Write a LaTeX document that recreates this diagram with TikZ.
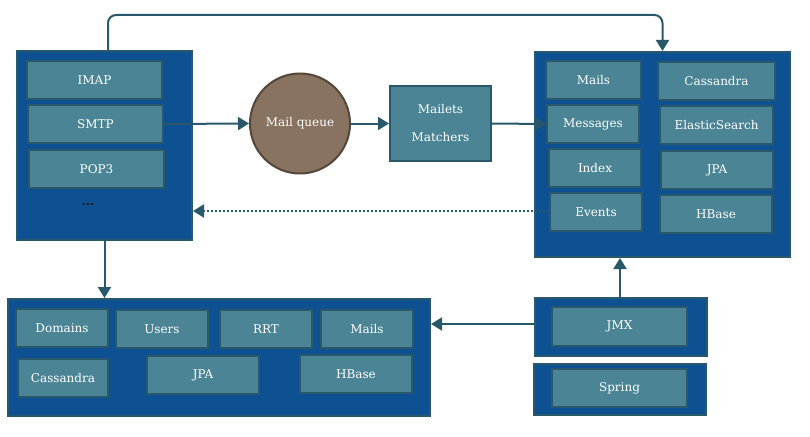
\documentclass[tikz,border=0pt]{standalone}
\usepackage{fontspec}
\setmainfont{DejaVu Serif}
\usetikzlibrary{arrows.meta}
\definecolor{outerblue}{RGB}{14,81,146}
\definecolor{edgeteal}{RGB}{40,88,105}
\definecolor{innerteal}{RGB}{74,132,149}
\definecolor{queuebrown}{RGB}{135,115,95}
\definecolor{queueedge}{RGB}{85,70,58}
\tikzset{
  outerbox/.style={draw=edgeteal, fill=outerblue, line width=2pt, inner sep=0pt},
  innerbox/.style={draw=edgeteal, fill=innerteal, line width=2pt, text=white, inner sep=0pt, font=\fontsize{12}{13}\selectfont},
  arr/.style={draw=edgeteal, line width=2pt, -{Triangle[length=11pt,width=13pt]}},
}
\begin{document}
\begin{tikzpicture}[x=1pt,y=-1pt]
\useasboundingbox (0,0) rectangle (810,436);
% outer containers
\node[outerbox, minimum width=175, minimum height=189] (left) at (104.5,145.5) {};
\node[outerbox, minimum width=255, minimum height=205] (right) at (662.5,154.5) {};
\node[outerbox, minimum width=422, minimum height=117] (bottom) at (219,357.5) {};
\node[outerbox, minimum width=172, minimum height=58] (jmxo) at (621,327) {};
\node[outerbox, minimum width=172, minimum height=51] (springo) at (620,389.5) {};
% left contents
\node[innerbox, minimum width=135, minimum height=38] (imap) at (94.5,80) {IMAP};
\node[innerbox, minimum width=135, minimum height=38] (smtp) at (95.5,124) {SMTP};
\node[innerbox, minimum width=135, minimum height=38] (pop3) at (96.5,169) {POP3};
\node[text=black!90, font=\fontsize{12}{13}\selectfont\bfseries, inner sep=0pt] (dots) at (88,205) {...};
% queue and mailets
\node[circle, draw=queueedge, fill=queuebrown, line width=2pt, minimum size=100, text=white, inner sep=0pt, font=\fontsize{12}{13}\selectfont] (queue) at (300,123.5) {Mail queue};
\node[innerbox, minimum width=101, minimum height=75, align=center, font=\fontsize{12}{28}\selectfont] (mailets) at (440.5,123.5) {Mailets\\Matchers};
% right contents
\node[innerbox, minimum width=95, minimum height=38] (mails1) at (593.5,80) {Mails};
\node[innerbox, minimum width=92, minimum height=38] (messages) at (593,124) {Messages};
\node[innerbox, minimum width=92, minimum height=38] (index) at (595,168) {Index};
\node[innerbox, minimum width=92, minimum height=38] (events) at (596,212) {Events};
\node[innerbox, minimum width=117, minimum height=38] (cass1) at (716.5,81) {Cassandra};
\node[innerbox, minimum width=113, minimum height=38] (es) at (716.5,125) {ElasticSearch};
\node[innerbox, minimum width=112, minimum height=38] (jpa1) at (717,170) {JPA};
\node[innerbox, minimum width=112, minimum height=38] (hbase1) at (716,214) {HBase};
% bottom contents
\node[innerbox, minimum width=92, minimum height=38] (domains) at (62,328) {Domains};
\node[innerbox, minimum width=92, minimum height=38] (users) at (162,329) {Users};
\node[innerbox, minimum width=92, minimum height=38] (rrt) at (266,329) {RRT};
\node[innerbox, minimum width=92, minimum height=38] (mails2) at (367,329) {Mails};
\node[innerbox, minimum width=90, minimum height=38] (cass2) at (63,378) {Cassandra};
\node[innerbox, minimum width=112, minimum height=38] (jpa2) at (203,375) {JPA};
\node[innerbox, minimum width=112, minimum height=38] (hbase2) at (356,374) {HBase};
% jmx / spring
\node[innerbox, minimum width=135, minimum height=39] (jmx) at (619.5,326.5) {JMX};
\node[innerbox, minimum width=135, minimum height=38] (spring) at (619.5,388) {Spring};
% connectors
\coordinate (top) at (0,15);
\draw[arr] (smtp.east) -- (queue.west);
\draw[arr] (queue.east) -- (mailets.west);
\draw[arr] (mailets.east) -- (messages.west);
\draw[arr, dotted, line width=2pt] ([yshift=1]events.west) -- ([yshift=1]events.west -| left.east);
\draw[arr, rounded corners=8] ([xshift=3.5]left.north) |- (top -| right.north) -- (right.north);
\draw[arr] (left.south) -- (left.south |- bottom.north);
\draw[arr] ([xshift=-1]jmxo.north) -- ([xshift=-1]jmxo.north |- right.south);
\draw[arr] ([yshift=3]jmxo.west) -- ([yshift=3]jmxo.west -| bottom.east);
\end{tikzpicture}
\end{document}
